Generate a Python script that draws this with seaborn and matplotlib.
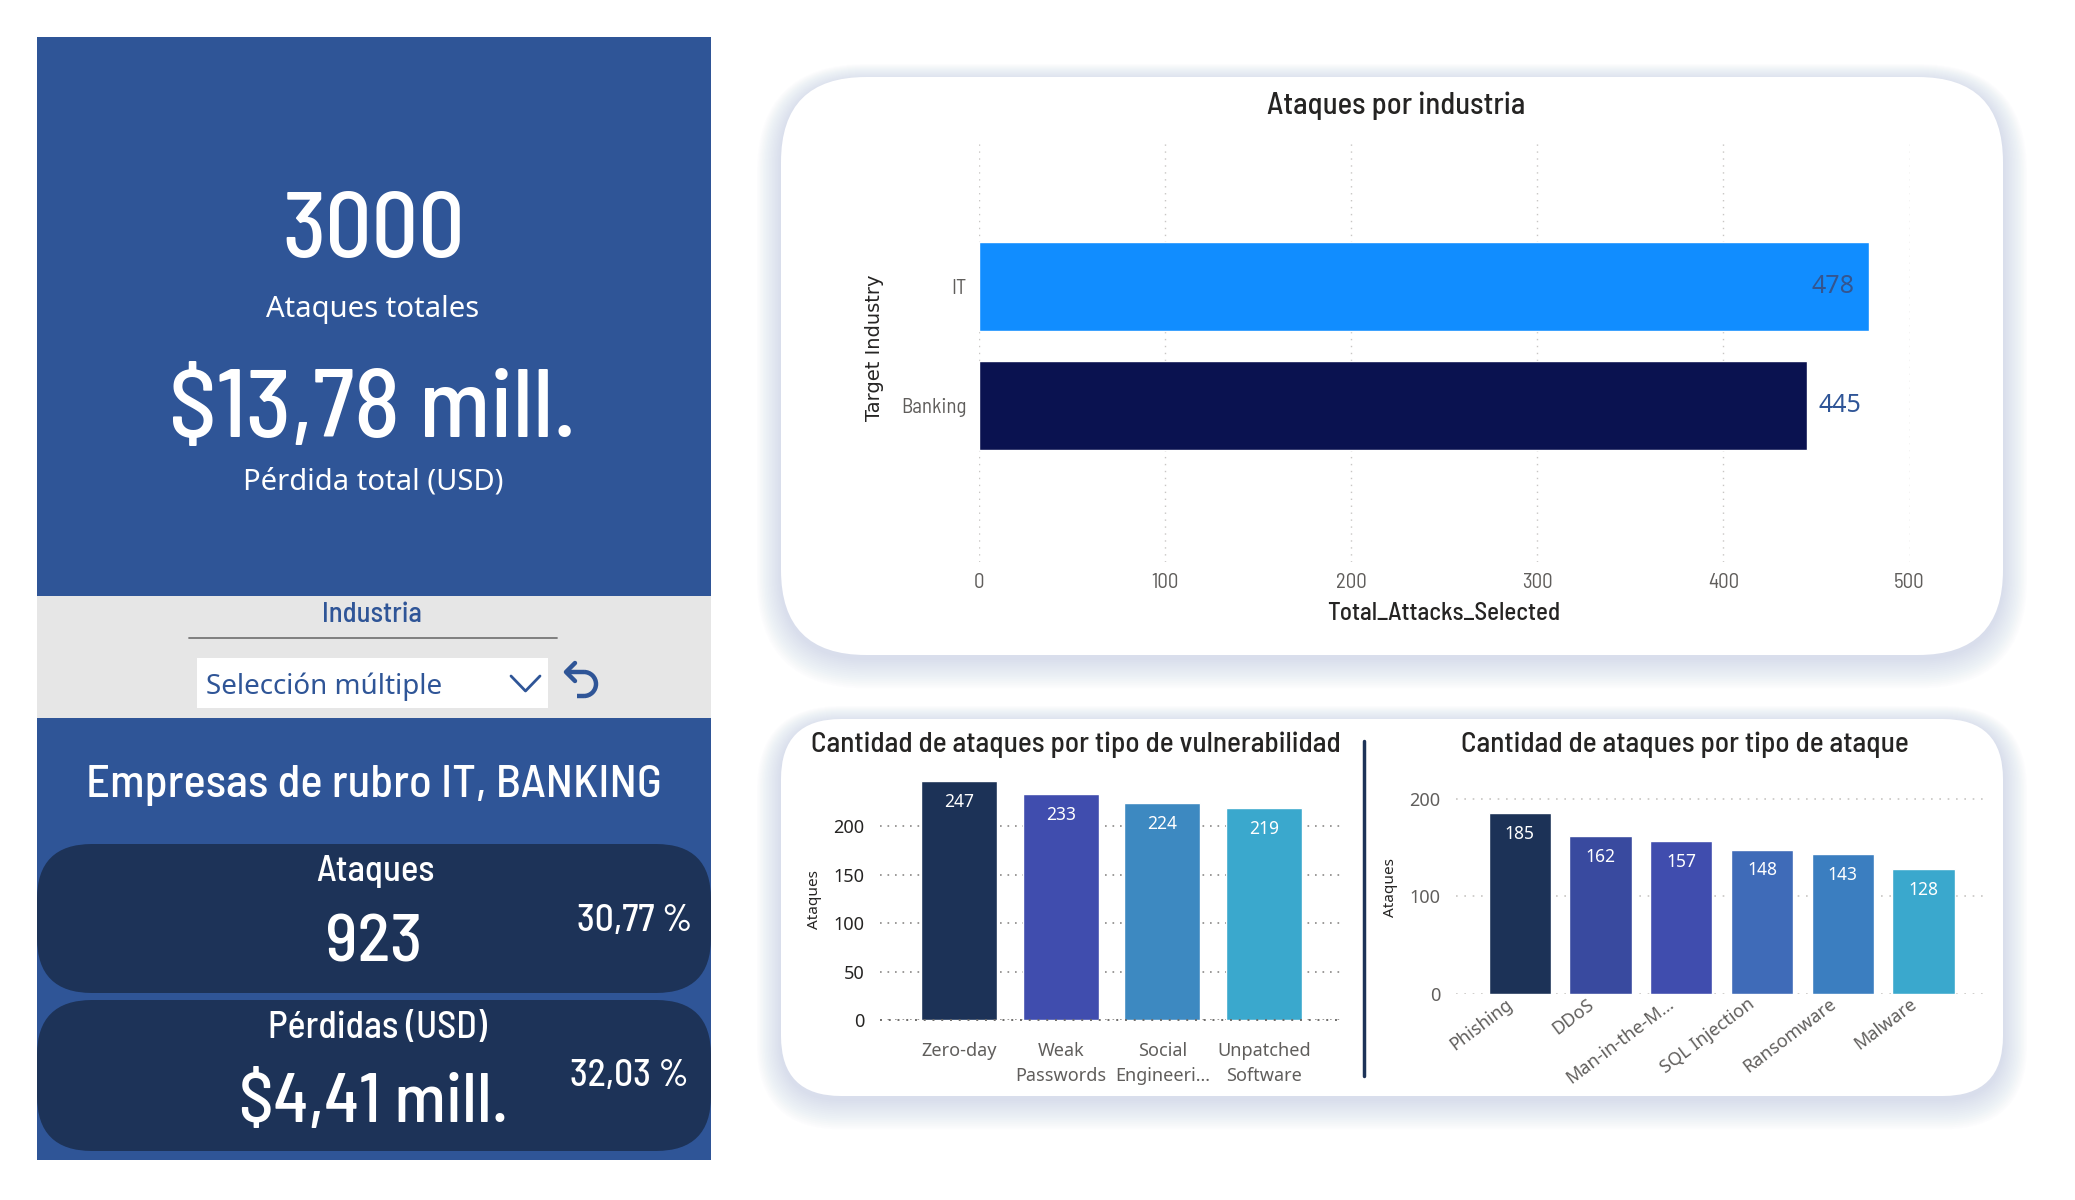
import matplotlib
matplotlib.use("Agg")
import matplotlib.pyplot as plt
import matplotlib.transforms as mtransforms
import seaborn as sns
import numpy as np
import pandas as pd
from matplotlib.patches import FancyBboxPatch, Rectangle, Arc
from matplotlib import font_manager as fm

# ---------------- data ----------------
kpi_total_attacks = "3000"
kpi_total_attacks_label = "Ataques totales"
kpi_total_loss = "$13,78 mill."
kpi_total_loss_label = "Pérdida total (USD)"
slicer_title = "Industria"
slicer_value = "Selección múltiple"
segment_title = "Empresas de rubro IT, BANKING"
seg_attacks_label = "Ataques"
seg_attacks_value = "923"
seg_attacks_pct = "30,77 %"
seg_loss_label = "Pérdidas (USD)"
seg_loss_value = "$4,41 mill."
seg_loss_pct = "32,03 %"

industries = ["IT", "Banking"]
industry_attacks = [478, 445]

vuln_types = ["Zero-day", "Weak\nPasswords", "Social\nEngineeri...", "Unpatched\nSoftware"]
vuln_attacks = [247, 233, 224, 219]

attack_types = ["Phishing", "DDoS", "Man-in-the-M...", "SQL Injection", "Ransomware", "Malware"]
attack_counts = [185, 162, 157, 148, 143, 128]

ind_colors = ["#118DFF", "#0A1250"]
vuln_colors = ["#1C3257", "#404DAE", "#3D89C1", "#3AA8CD"]
attack_colors = ["#1C3257", "#394A9F", "#404DAE", "#3F6BB8", "#3B7EC0", "#3AA8CD"]

# ---------------- fonts ----------------
sns.set_theme(style="white")
names = {f.name for f in fm.fontManager.ttflist}
def pick(*c):
    for n in c:
        if n in names:
            return n
    return "DejaVu Sans"
COND = pick("Barlow Semi Condensed", "Roboto Condensed", "DejaVu Sans")
UI = pick("Noto Sans", "Open Sans", "DejaVu Sans")
plt.rcParams["font.family"] = [UI, "DejaVu Sans"]
DW = 500  # medium weight for the DIN-like texts

W, H = 2075, 1200
fig = plt.figure(figsize=(W / 100, H / 100), dpi=100)
fig.patch.set_facecolor("white")
bg = fig.add_axes([0, 0, 1, 1], zorder=0)
bg.set_xlim(0, W)
bg.set_ylim(H, 0)
bg.axis("off")

def add_ax(x0, y0, x1, y1):
    a = fig.add_axes([x0 / W, 1 - y1 / H, (x1 - x0) / W, (y1 - y0) / H], zorder=2)
    a.patch.set_alpha(0)
    return a

def rbox(x0, y0, x1, y1, r, color, z=1, alpha=1.0):
    p = FancyBboxPatch((x0, y0), x1 - x0, y1 - y0,
                       boxstyle=f"round,pad=0,rounding_size={r}",
                       fc=color, ec="none", zorder=z, alpha=alpha)
    bg.add_patch(p)

def card(x0, y0, x1, y1, r):
    for i in range(16, 0, -1):
        rbox(x0 - i * 1.5, y0 - i * 1.0 + 3, x1 + i * 1.5, y1 + i * 1.9 + 3, r + i * 1.5,
             "#9AA9D0", z=0.5, alpha=0.022)
    rbox(x0, y0, x1, y1, r, "white", z=1)

def dtext(x, y, s, size, color="white", ha="center"):
    bg.text(x, y, s, color=color, fontsize=size, family=COND, fontweight=DW,
            ha=ha, va="center", zorder=3)

BLUE = "#2F5597"
NAVY = "#1D3358"

# ---------------- left panel ----------------
bg.add_patch(Rectangle((37, 37), 674, 559, fc=BLUE, ec="none", zorder=1))
bg.add_patch(Rectangle((37, 596), 674, 122, fc="#E6E6E6", ec="none", zorder=1))
bg.add_patch(Rectangle((37, 718), 674, 442, fc=BLUE, ec="none", zorder=1))

dtext(374, 233, kpi_total_attacks, 66)
bg.text(373, 309, kpi_total_attacks_label, color="white", fontsize=21, ha="center", va="center", zorder=3)
dtext(373, 412, kpi_total_loss, 69)
bg.text(373, 482, kpi_total_loss_label, color="white", fontsize=21, ha="center", va="center", zorder=3)

dtext(372, 615, slicer_title, 20.5, color=BLUE)
bg.plot([189, 557], [638, 638], color="#777777", lw=1.3, zorder=3)
bg.add_patch(Rectangle((197, 658), 351, 50, fc="white", ec="none", zorder=2))
bg.text(206, 687, slicer_value, color=BLUE, fontsize=20, ha="left", va="center", zorder=3)
bg.plot([511, 525.5, 540], [676, 691, 676], color=BLUE, lw=2, zorder=3)
# undo arrow
bg.plot([567, 584], [672, 672], color=BLUE, lw=3.2, solid_capstyle="butt", zorder=3)
bg.add_patch(Arc((584, 684), 24, 24, theta1=-90, theta2=90, color=BLUE, lw=3.2, zorder=3))
bg.plot([584, 577], [696, 696], color=BLUE, lw=3.2, solid_capstyle="butt", zorder=3)
bg.plot([575, 566, 575], [663, 672, 681], color=BLUE, lw=3.2, zorder=3)

dtext(374, 786, segment_title, 33.5)
rbox(37, 844, 711, 993, 55, NAVY, z=2)
rbox(37, 1000, 711, 1151, 55, NAVY, z=2)
dtext(375, 872, seg_attacks_label, 26.5)
dtext(374, 944, seg_attacks_value, 49)
dtext(635, 921, seg_attacks_pct, 27)
dtext(377, 1028, seg_loss_label, 27)
dtext(374, 1104, seg_loss_value, 50)
dtext(629, 1076, seg_loss_pct, 27)

# ---------------- cards ----------------
card(781, 77, 2003, 655, 85)
card(781, 719, 2003, 1096, 60)
bg.plot([1364, 1364], [741, 1076], color=NAVY, lw=2.5, zorder=3)

def clean(ax):
    for s in ax.spines.values():
        s.set_visible(False)
    ax.tick_params(length=0)

# ---------------- top chart ----------------
dtext(1396, 106, "Ataques por industria", 22, color="#252423")
ax1 = add_ax(979, 139, 1909.5, 562)
df1 = pd.DataFrame({"Target Industry": industries, "Total_Attacks_Selected": industry_attacks})
sns.barplot(data=df1, x="Total_Attacks_Selected", y="Target Industry", hue="Target Industry",
            palette=ind_colors, orient="h", width=0.75, saturation=1, legend=False, ax=ax1, zorder=2)
ax1.set_xlim(0, 500)
ax1.set_ylim(2.315, -1.24)
ax1.set_xticks([0, 100, 200, 300, 400, 500])
ax1.grid(axis="x", linestyle=(0, (1, 4)), color="#C8C6C4", lw=1)
ax1.grid(axis="y", visible=False)
ax1.set_axisbelow(True)
clean(ax1)
ax1.tick_params(axis="x", pad=8, labelsize=15, labelcolor="#605E5C")
ax1.tick_params(axis="y", pad=9, labelsize=15, labelcolor="#605E5C")
for lab in ax1.get_xticklabels() + ax1.get_yticklabels():
    lab.set_family(COND)
ax1.set_xlabel("Total_Attacks_Selected", fontsize=18, family=COND, fontweight=DW,
               color="#252423", labelpad=7)
ax1.set_ylabel("Target Industry", fontsize=14, family="DejaVu Sans", color="#252423")
ax1.yaxis.set_label_coords(-0.102, 0.506)
xmax = 500
for i, v in enumerate(industry_attacks):
    if v / xmax > 0.93:
        ax1.annotate(str(v), xy=(v, i), xytext=(-10, 0), textcoords="offset points",
                     ha="right", va="center", fontsize=18, color="#34558F", zorder=4)
    else:
        ax1.annotate(str(v), xy=(v, i), xytext=(8, 0), textcoords="offset points",
                     ha="left", va="center", fontsize=18, color=BLUE, zorder=4)

# ---------------- bottom left chart ----------------
dtext(1076, 745, "Cantidad de ataques por tipo de vulnerabilidad", 21, color="#252423")
ax2 = add_ax(880, 773, 1343, 1020)
df2 = pd.DataFrame({"Vulnerabilidad": vuln_types, "Ataques": vuln_attacks})
sns.barplot(data=df2, x="Vulnerabilidad", y="Ataques", hue="Vulnerabilidad", palette=vuln_colors,
            width=0.75, saturation=1, legend=False, ax=ax2, zorder=2)
ax2.set_ylim(0, 255)
ax2.set_xlim(-0.78, 3.78)
ax2.set_yticks([0, 50, 100, 150, 200])
ax2.grid(axis="y", linestyle=(0, (1, 3.5)), color="#8A8886", lw=1.2)
ax2.grid(axis="x", visible=False)
ax2.set_axisbelow(True)
ax2.axhline(0, linestyle=(0, (1, 3.5)), color="#6E6C6A", lw=1.4, zorder=3, clip_on=False)
clean(ax2)
ax2.tick_params(axis="y", pad=11, labelsize=13, labelcolor="#252423")
ax2.tick_params(axis="x", pad=16, labelsize=13, labelcolor="#605E5C")
for lab in ax2.get_xticklabels():
    lab.set_linespacing(1.45)
ax2.set_xlabel("")
ax2.set_ylabel("Ataques", fontsize=11, fontweight="bold", color="#252423")
ax2.yaxis.set_label_coords(-0.125, 0.486)
for i, v in enumerate(vuln_attacks):
    ax2.annotate(str(v), xy=(i, v), xytext=(0, -15), textcoords="offset points",
                 ha="center", va="center", fontsize=12.5, color="white", zorder=4)

# ---------------- bottom right chart ----------------
dtext(1685, 745, "Cantidad de ataques por tipo de ataque", 21, color="#252423")
ax3 = add_ax(1456, 791, 1989, 994)
df3 = pd.DataFrame({"Tipo": attack_types, "Ataques": attack_counts})
sns.barplot(data=df3, x="Tipo", y="Ataques", hue="Tipo", palette=attack_colors,
            width=0.77, saturation=1, legend=False, ax=ax3, zorder=2)
ax3.set_ylim(0, 208)
ax3.set_xlim(-0.79, 5.81)
ax3.set_yticks([0, 100, 200])
ax3.grid(axis="y", linestyle=(0, (1, 4)), color="#C8C6C4", lw=1.2)
ax3.grid(axis="x", visible=False)
ax3.set_axisbelow(True)
clean(ax3)
ax3.tick_params(axis="y", pad=11, labelsize=13, labelcolor="#605E5C")
ax3.tick_params(axis="x", pad=6, labelsize=13, labelcolor="#605E5C")
shift = mtransforms.ScaledTranslation(-9 / 100, 0, fig.dpi_scale_trans)
for lab in ax3.get_xticklabels():
    lab.set_rotation(37)
    lab.set_ha("right")
    lab.set_va("center")
    lab.set_rotation_mode("anchor")
    lab.set_transform(lab.get_transform() + shift)
ax3.set_xlabel("")
ax3.set_ylabel("Ataques", fontsize=11, fontweight="bold", color="#252423")
ax3.yaxis.set_label_coords(-0.109, 0.527)
for i, v in enumerate(attack_counts):
    ax3.annotate(str(v), xy=(i, v), xytext=(0, -15), textcoords="offset points",
                 ha="center", va="center", fontsize=12.5, color="white", zorder=4)

fig.savefig("out.png", dpi=100, facecolor="white")
